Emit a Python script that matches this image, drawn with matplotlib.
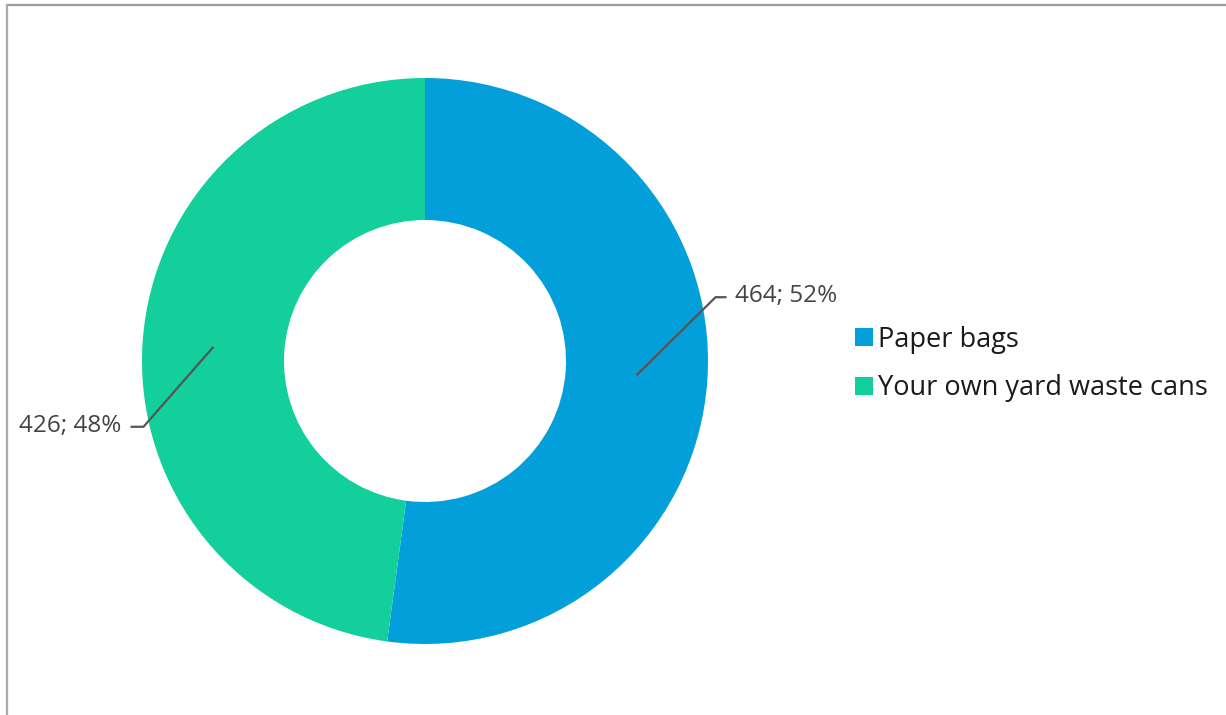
import matplotlib
matplotlib.use("Agg")
import matplotlib.pyplot as plt
import numpy as np

# data
names = ["Paper bags", "Your own yard waste cans"]
counts = [464, 426]
colors = ["#039fda", "#13cf9b"]

plt.rcParams['font.family'] = ['Open Sans', 'DejaVu Sans']

W, H = 1226, 715
fig = plt.figure(figsize=(W / 100, H / 100), dpi=100)
ax = fig.add_axes([0, 0, 1, 1])

cx, cy = 425, H - 361
r_out, r_in = 283, 141
wedges, _ = ax.pie(counts, colors=colors, startangle=90, counterclock=False,
                   center=(cx, cy), radius=r_out, frame=True,
                   wedgeprops=dict(width=r_out - r_in, linewidth=0))
ax.set_xlim(0, W)
ax.set_ylim(0, H)
ax.set_aspect("equal")
ax.axis("off")

# data labels with leader lines
total = sum(counts)
r_mid = (r_out + r_in) / 2
# (elbow dx, dy, horizontal tail) per slice
leader = [(79, 78, 11), (-70, -80, -13)]
for w, v, (ex, ey, tail) in zip(wedges, counts, leader):
    ang = np.deg2rad((w.theta1 + w.theta2) / 2)
    x0, y0 = cx + r_mid * np.cos(ang), cy + r_mid * np.sin(ang)
    x1, y1 = x0 + ex, y0 + ey
    x2 = x1 + tail
    ax.plot([x0, x1, x2], [y0, y1, y1], color="#555555", lw=1.6,
            solid_capstyle="butt")
    txt = f"{v}; {round(100 * v / total)}%"
    ha = "left" if tail > 0 else "right"
    ax.text(x2 + (8 if tail > 0 else -9), y1 + 1, txt, ha=ha, va="center",
            fontsize=17.5, color="#444444")

fig.legend(wedges, names, loc="center left",
           bbox_to_anchor=(855 / W, 1 - 364 / H), frameon=False,
           borderpad=0, borderaxespad=0,
           fontsize=19.5, handlelength=0.65, handleheight=0.65,
           handletextpad=0.2, labelspacing=0.75, labelcolor="#1a1a1a")

# outer border (top and left visible)
ax.plot([7, W], [H - 4.5, H - 4.5], color="#9a9a9a", lw=1.6, clip_on=False)
ax.plot([7, 7], [0, H - 4.5], color="#ababab", lw=1.6, clip_on=False)

fig.savefig("out.png", dpi=100)
